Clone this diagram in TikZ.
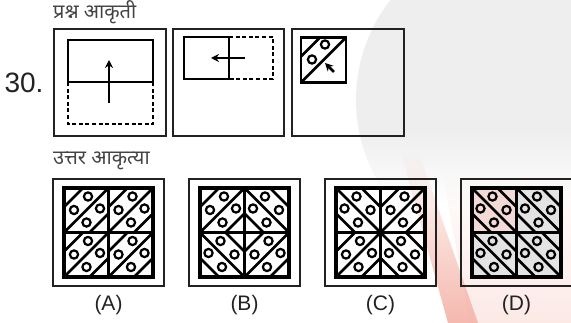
\documentclass[tikz,border=0pt]{standalone}
\usepackage{fontspec}
\setmainfont{Liberation Sans}
\newfontfamily\deva[Script=Devanagari]{Noto Sans}
\usetikzlibrary{arrows.meta,fadings}
\definecolor{wmgray}{HTML}{EEEEEE}
\definecolor{wmpink}{HTML}{FCE9E6}
\definecolor{wmred}{HTML}{F5B8AE}
\definecolor{ink}{HTML}{222222}
\definecolor{dshade}{HTML}{E3E3E3}
\definecolor{dshadep}{HTML}{F3DAD6}
\tikzset{
  outerbox/.style={draw=ink, line width=2.3pt},
  figline/.style={draw=black, line width=2.7pt},
  dashfig/.style={draw=black, line width=2.7pt, dash pattern=on 4pt off 2.6pt},
  hole/.style={draw=black, line width=2.2pt},
  arr/.style={draw=black, line width=2.6pt, -{Stealth[length=8pt,width=8pt]}},
  gridout/.style={draw=black, line width=3.3pt},
  gridin/.style={draw=black, line width=2.8pt},
  lab/.style={font=\fontsize{21}{21}\selectfont, text=ink},
  num/.style={font=\fontsize{28}{28}\selectfont, text=ink},
  hindi/.style={font=\deva\fontsize{20}{20}\selectfont, text=ink!85, anchor=west, inner sep=0pt}
}
\newcommand{\cellshape}{%
  \draw[figline] (0,44.5)--(44.5,0);
  \draw[figline] (0,19)--(19,0);
  \draw[figline] (25.5,44.5)--(44.5,25.5);
  \foreach \p in {(24,8.5),(10,22),(36,20.5),(22.5,34.5)} \draw[hole] \p circle[radius=4.1pt];
}
\newcommand{\anscell}[3]{%
  \begin{scope}[shift={(#1,#2)}]
    \ifnum#3=1 \cellshape\else
      \begin{scope}[shift={(44.5,0)},xscale=-1]\cellshape\end{scope}\fi
  \end{scope}}
\newcommand{\ansfig}[5]{%
  \begin{scope}[shift={(#1,0)}]
    \draw[outerbox] (53,179) rectangle (164,286);
    \anscell{64}{188}{#2}\anscell{108.5}{188}{#3}
    \anscell{64}{232.5}{#4}\anscell{108.5}{232.5}{#5}
    \draw[gridout] (64,188) rectangle (153,277);
    \draw[gridin] (108.5,188)--(108.5,277) (64,232.5)--(153,232.5);
  \end{scope}}
\begin{document}
\begin{tikzpicture}[x=1pt,y=-1pt]
  \useasboundingbox (0,0) rectangle (571,323);
  % watermark
  \begin{scope}
    \clip (0,0) rectangle (571,323);
    \clip (519,100) circle[radius=163pt];
    \fill[wmgray] (300,-70) rectangle (571,130);
    \fill[wmgray, path fading=south] (300,130) rectangle (571,205);
  \end{scope}
  \begin{scope}
    \clip (0,0) rectangle (571,323);
    \fill[wmpink, path fading=north] (440,160) -- (571,160) -- (571,323) -- (470,323) -- cycle;
    \fill[wmred, path fading=north] (400,150) -- (418,150) -- (478,323) -- (448,323) -- cycle;
  \end{scope}
  % titles
  \node[hindi] (t1) at (53,12) {प्रश्न आकृती};
  \node[hindi] (t2) at (53,161) {उत्तर आकृत्या};
  \node[num] (n30) at (24,83) {30.};
  % question figure 1
  \draw[outerbox] (54,29) rectangle (166,136);
  \draw[figline] (68,82) rectangle (153,40);
  \draw[dashfig] (68,82) -- (68,124) -- (153,124) -- (153,82);
  \coordinate (a1s) at (109,103);
  \coordinate (a1e) at (109,60);
  \draw[arr] (a1s) -- (a1e);
  % question figure 2
  \draw[outerbox] (173,29) rectangle (284,136);
  \draw[figline] (229,37) rectangle (184,79);
  \draw[dashfig] (229,37) -- (273,37) -- (273,79) -- (229,79);
  \coordinate (a2s) at (245,58);
  \coordinate (a2e) at (211,58);
  \draw[arr] (a2s) -- (a2e);
  % question figure 3
  \draw[outerbox] (292,29) rectangle (404,136);
  \draw[figline] (301,37.5) rectangle (346,82.5);
  \draw[figline] (301,82.5) -- (346,37.5);
  \draw[figline] (301,56.5) -- (320,37.5);
  \draw[hole] (312,59.5) circle[radius=4.1pt];
  \draw[hole] (325,44.5) circle[radius=4.1pt];
  \coordinate (a3s) at (334,72);
  \coordinate (a3e) at (325,63);
  \draw[arr] (a3s) -- (a3e);
  % answers
  \ansfig{0}{1}{1}{1}{1}
  \ansfig{136}{1}{-1}{-1}{1}
  \ansfig{272}{-1}{1}{1}{-1}
  \fill[dshade] (472,188) rectangle (561,277);
  \fill[dshadep] (472,188) rectangle (516.5,232.5);
  \ansfig{408}{-1}{-1}{-1}{-1}
  \node[lab] (la) at (108.5,305) {(A)};
  \node[lab] (lb) at (244.5,305) {(B)};
  \node[lab] (lc) at (380.5,305) {(C)};
  \node[lab] (ld) at (516.5,305) {(D)};
\end{tikzpicture}
\end{document}
